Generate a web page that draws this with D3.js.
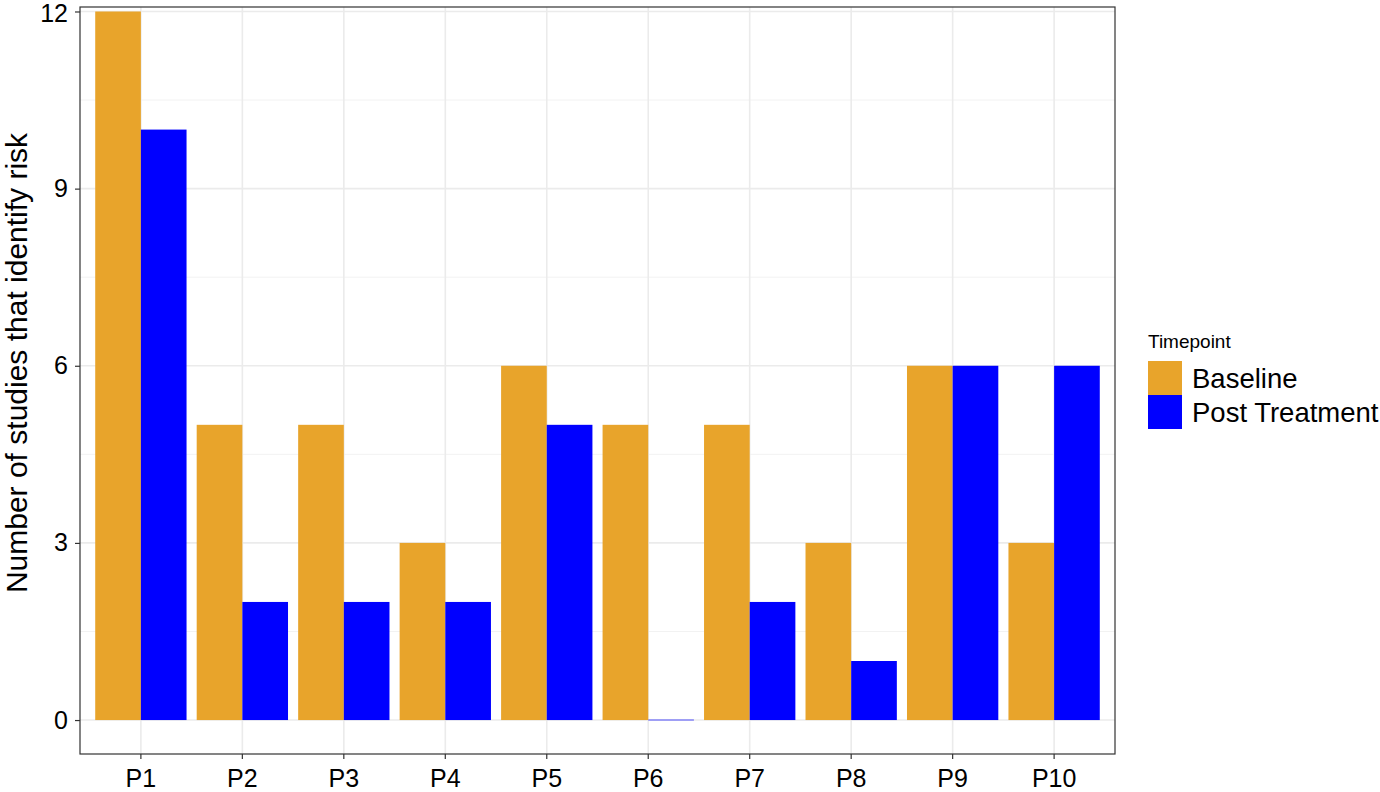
<!DOCTYPE html>
<html lang="en">
<head>
    <meta charset="UTF-8">
    <script src="https://d3js.org/d3.v7.min.js"></script>
    <title>Number of studies that identify risk</title>
    <style>
        body {
            margin: 0;
            background: #fff;
            font-family: 'Liberation Sans', Arial, sans-serif;
        }
        text {
            fill: #000;
        }
        .grid-major line {
            stroke: #ebebeb;
            stroke-width: 1.6px;
        }
        .grid-minor line {
            stroke: #f2f2f2;
            stroke-width: 1px;
        }
    </style>
</head>
<body>
    <svg width="1380" height="792"></svg>
    <script>
        // Data
        const categories = ["P1", "P2", "P3", "P4", "P5", "P6", "P7", "P8", "P9", "P10"];
        const seriesNames = ["Baseline", "Post Treatment"];
        const baseline = [12, 5, 5, 3, 6, 5, 5, 3, 6, 3];
        const postTreatment = [10, 2, 2, 2, 5, 0, 2, 1, 6, 6];
        const yTicks = [0, 3, 6, 9, 12];
        const yMinorTicks = [1.5, 4.5, 7.5, 10.5];
        const colors = ["#e8a42b", "#0000ff"];

        const width = 1380;
        const height = 792;
        const margin = { top: 7, right: 265, bottom: 38, left: 80 };

        const svg = d3.select("svg")
            .attr("width", width)
            .attr("height", height);

        const rows = categories.map((c, i) => ({
            cat: c,
            values: [baseline[i], postTreatment[i]]
        }));

        // Scales
        const x = d3.scaleBand()
            .domain(categories)
            .range([margin.left, width - margin.right])
            .paddingOuter(0.1)
            .paddingInner(0);

        const step = x.step();
        const barW = step * 0.9 / 2;

        const y = d3.scaleLinear()
            .domain([-0.575, 12.076])
            .range([height - margin.bottom, margin.top]);

        // Gridlines
        svg.append("g")
            .attr("class", "grid-minor")
            .selectAll("line")
            .data(yMinorTicks)
            .enter().append("line")
            .attr("x1", margin.left)
            .attr("x2", width - margin.right)
            .attr("y1", d => y(d))
            .attr("y2", d => y(d));

        svg.append("g")
            .attr("class", "grid-major")
            .selectAll("line")
            .data(yTicks)
            .enter().append("line")
            .attr("x1", margin.left)
            .attr("x2", width - margin.right)
            .attr("y1", d => y(d))
            .attr("y2", d => y(d));

        svg.append("g")
            .attr("class", "grid-major")
            .selectAll("line")
            .data(categories)
            .enter().append("line")
            .attr("x1", d => x(d) + step / 2)
            .attr("x2", d => x(d) + step / 2)
            .attr("y1", margin.top)
            .attr("y2", height - margin.bottom);

        // Bars
        const groups = svg.selectAll(".grp")
            .data(rows)
            .enter().append("g")
            .attr("class", "grp");

        groups.selectAll("rect")
            .data(d => d.values.map((v, j) => ({ cat: d.cat, v: v, j: j })))
            .enter().append("rect")
            .attr("x", d => x(d.cat) + step / 2 - barW + d.j * barW)
            .attr("y", d => y(d.v))
            .attr("width", barW)
            .attr("height", d => y(0) - y(d.v))
            .attr("fill", d => colors[d.j]);

        // zero-height bars still show a faint line
        groups.selectAll("line.zero")
            .data(d => d.values.map((v, j) => ({ cat: d.cat, v: v, j: j })).filter(d => d.v === 0))
            .enter().append("line")
            .attr("class", "zero")
            .attr("x1", d => x(d.cat) + step / 2 - barW + d.j * barW)
            .attr("x2", d => x(d.cat) + step / 2 + d.j * barW)
            .attr("y1", y(0))
            .attr("y2", y(0))
            .attr("stroke", d => colors[d.j])
            .attr("stroke-opacity", 0.45)
            .attr("stroke-width", 1.5);

        // Panel border
        svg.append("rect")
            .attr("x", margin.left)
            .attr("y", margin.top)
            .attr("width", width - margin.right - margin.left)
            .attr("height", height - margin.bottom - margin.top)
            .attr("fill", "none")
            .attr("stroke", "#333")
            .attr("stroke-width", 1.2);

        // Axes
        const xAxis = svg.append("g")
            .attr("transform", `translate(0,${height - margin.bottom})`)
            .call(d3.axisBottom(x).tickSize(5).tickPadding(10));
        xAxis.select(".domain").remove();
        xAxis.selectAll("line").attr("stroke", "#333").attr("stroke-width", 1.2);
        xAxis.selectAll("text")
            .style("font-size", "25px")
            .style("font-family", "'Liberation Sans', Arial, sans-serif")
            .attr("fill", "#000");

        const yAxis = svg.append("g")
            .attr("transform", `translate(${margin.left},0)`)
            .call(d3.axisLeft(y).tickValues(yTicks).tickSize(5).tickPadding(7));
        yAxis.select(".domain").remove();
        yAxis.selectAll("line").attr("stroke", "#333").attr("stroke-width", 1.2);
        yAxis.selectAll("text")
            .style("font-size", "25px")
            .style("font-family", "'Liberation Sans', Arial, sans-serif")
            .attr("fill", "#000");
        // keep the top label inside the picture
        yAxis.selectAll(".tick text")
            .filter(d => d === 12)
            .attr("dy", "0.42em");

        // Y axis title
        svg.append("text")
            .attr("transform", "translate(27,363) rotate(-90)")
            .attr("text-anchor", "middle")
            .style("font-size", "30px")
            .text("Number of studies that identify risk");

        // Legend
        const legend = svg.append("g")
            .attr("transform", "translate(1148,0)");

        legend.append("text")
            .attr("x", 0)
            .attr("y", 348)
            .style("font-size", "19px")
            .text("Timepoint");

        seriesNames.forEach((name, i) => {
            legend.append("rect")
                .attr("x", 0)
                .attr("y", 361 + i * 34)
                .attr("width", 34)
                .attr("height", 34)
                .attr("fill", colors[i]);
            legend.append("text")
                .attr("x", 44)
                .attr("y", 378 + i * 34)
                .attr("dy", "0.36em")
                .style("font-size", "27.5px")
                .text(name);
        });
    </script>
</body>
</html>
